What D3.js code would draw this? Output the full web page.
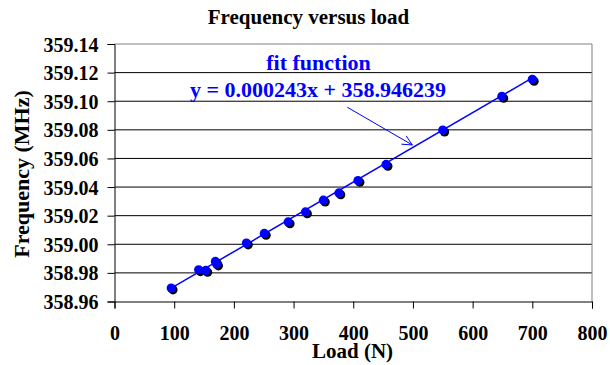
<!DOCTYPE html>
<html>
<head>
<meta charset="utf-8">
<script src="https://cdn.jsdelivr.net/npm/d3@7"></script>
<style>
    body { margin: 0; background: #fff; }
    svg text { font-family: "Liberation Serif", "Times New Roman", serif !important; font-weight: bold; }
</style>
</head>
<body>
<div id="chart"></div>
<script>
// measured points (load in N, frequency in MHz)
const loads = [95, 141, 153, 169, 171, 221, 251, 291, 320, 350, 376, 408, 455, 550, 649, 700];
const freqs = [358.9694, 358.9822, 358.9817, 358.9880, 358.9862, 359.0009, 359.0076, 359.0156, 359.0226,
    359.0308, 359.0359, 359.0446, 359.0558, 359.0798, 359.1034, 359.1153];

// fit function y = slope * x + intercept
const slope = 0.000243;
const intercept = 358.946239;

const xTicks = [0, 100, 200, 300, 400, 500, 600, 700, 800];
const yTicks = [358.96, 358.98, 359.00, 359.02, 359.04, 359.06, 359.08, 359.10, 359.12, 359.14];

const title = "Frequency versus load";
const xTitle = "Load (N)";
const yTitle = "Frequency (MHz)";
const fitLabel = "fit function";
const fitEquation = "y = 0.000243x + 358.946239";
// arrow from the label to the line, in data units [load, frequency]
const arrowFrom = [390, 359.0958];
const arrowTo = [499, 359.0694];

function createScatterChart(container) {
    const chartWidth = 610;
    const chartHeight = 365;
    const margin = { top: 44, right: 18, bottom: 63.5, left: 114.5 };
    const blue = "#0000ff";
    const serif = "'Liberation Serif', 'Times New Roman', serif";

    const svg = d3.select(container)
        .append("svg")
        .attr("width", chartWidth)
        .attr("height", chartHeight);

    const xScale = d3.scaleLinear()
        .domain([0, 800])
        .range([margin.left, chartWidth - margin.right]);

    const yScale = d3.scaleLinear()
        .domain([358.96, 359.14])
        .range([chartHeight - margin.bottom, margin.top]);

    // gridlines
    svg.append("g")
        .selectAll("line")
        .data(yTicks.slice(1, -1))
        .enter().append("line")
        .attr("x1", xScale(0))
        .attr("x2", xScale(800))
        .attr("y1", d => yScale(d))
        .attr("y2", d => yScale(d))
        .attr("stroke", "#000")
        .attr("stroke-width", 1);

    // top and right border (grey)
    svg.append("path")
        .attr("d", `M${xScale(0)},${yScale(359.14)}H${xScale(800)}V${yScale(358.96)}`)
        .attr("fill", "none")
        .attr("stroke", "#808080")
        .attr("stroke-width", 1);

    const xAxis = svg.append("g")
        .attr("transform", `translate(0,${yScale(358.96)})`)
        .call(d3.axisBottom(xScale).tickValues(xTicks).tickSize(7).tickPadding(17).tickFormat(d3.format("d")));

    const yAxis = svg.append("g")
        .attr("transform", `translate(${xScale(0)},0)`)
        .call(d3.axisLeft(yScale).tickValues(yTicks).tickSize(7).tickPadding(9).tickFormat(d3.format(".2f")));

    [xAxis, yAxis].forEach(ax => {
        ax.attr("font-family", serif).attr("font-size", 20);
        ax.select(".domain").attr("stroke", "#000");
        ax.selectAll(".tick line").attr("stroke", "#000");
        ax.selectAll(".tick text")
            .attr("fill", "#000")
            .attr("font-family", serif)
            .attr("font-weight", "bold")
            .attr("font-size", 20);
    });
    yAxis.selectAll(".tick text").attr("dy", "0.35em");

    // fit line across the measured range
    const xExtent = d3.extent(loads);
    const line = d3.line()
        .x(d => xScale(d))
        .y(d => yScale(slope * d + intercept));

    svg.append("path")
        .datum(xExtent)
        .attr("fill", "none")
        .attr("stroke", blue)
        .attr("stroke-width", 1.5)
        .attr("d", line);

    const points = loads.map((d, i) => ({ x: d, y: freqs[i] }));

    svg.append("g")
        .selectAll("circle")
        .data(points)
        .enter().append("circle")
        .attr("cx", d => xScale(d.x) + 1.8)
        .attr("cy", d => yScale(d.y) + 1.8)
        .attr("r", 4.6)
        .attr("fill", "#000");

    svg.append("g")
        .selectAll("circle")
        .data(points)
        .enter().append("circle")
        .attr("cx", d => xScale(d.x))
        .attr("cy", d => yScale(d.y))
        .attr("r", 4.6)
        .attr("fill", blue);

    // arrow
    const ax1 = xScale(arrowFrom[0]), ay1 = yScale(arrowFrom[1]);
    const ax2 = xScale(arrowTo[0]), ay2 = yScale(arrowTo[1]);
    const ang = Math.atan2(ay2 - ay1, ax2 - ax1);
    const headLen = 11, headAng = 0.45;
    svg.append("path")
        .attr("d", `M${ax1},${ay1}L${ax2},${ay2}` +
            `M${ax2 - headLen * Math.cos(ang - headAng)},${ay2 - headLen * Math.sin(ang - headAng)}L${ax2},${ay2}` +
            `L${ax2 - headLen * Math.cos(ang + headAng)},${ay2 - headLen * Math.sin(ang + headAng)}`)
        .attr("fill", "none")
        .attr("stroke", blue)
        .attr("stroke-width", 1);

    svg.append("text")
        .attr("x", 318.5)
        .attr("y", 70)
        .attr("text-anchor", "middle")
        .attr("fill", blue)
        .attr("font-family", serif)
        .attr("font-size", 22)
        .text(fitLabel);

    svg.append("text")
        .attr("x", 318)
        .attr("y", 96.5)
        .attr("text-anchor", "middle")
        .attr("fill", blue)
        .attr("font-family", serif)
        .attr("font-size", 22)
        .text(fitEquation);

    // titles
    svg.append("text")
        .attr("x", 308.5)
        .attr("y", 24)
        .attr("text-anchor", "middle")
        .attr("font-family", serif)
        .attr("font-size", 21)
        .text(title);

    svg.append("text")
        .attr("x", 352.5)
        .attr("y", 358)
        .attr("text-anchor", "middle")
        .attr("font-family", serif)
        .attr("font-size", 21)
        .text(xTitle);

    svg.append("text")
        .attr("transform", "translate(29,174) rotate(-90)")
        .attr("text-anchor", "middle")
        .attr("font-family", serif)
        .attr("font-size", 22)
        .text(yTitle);
}

createScatterChart("#chart");
</script>
</body>
</html>
